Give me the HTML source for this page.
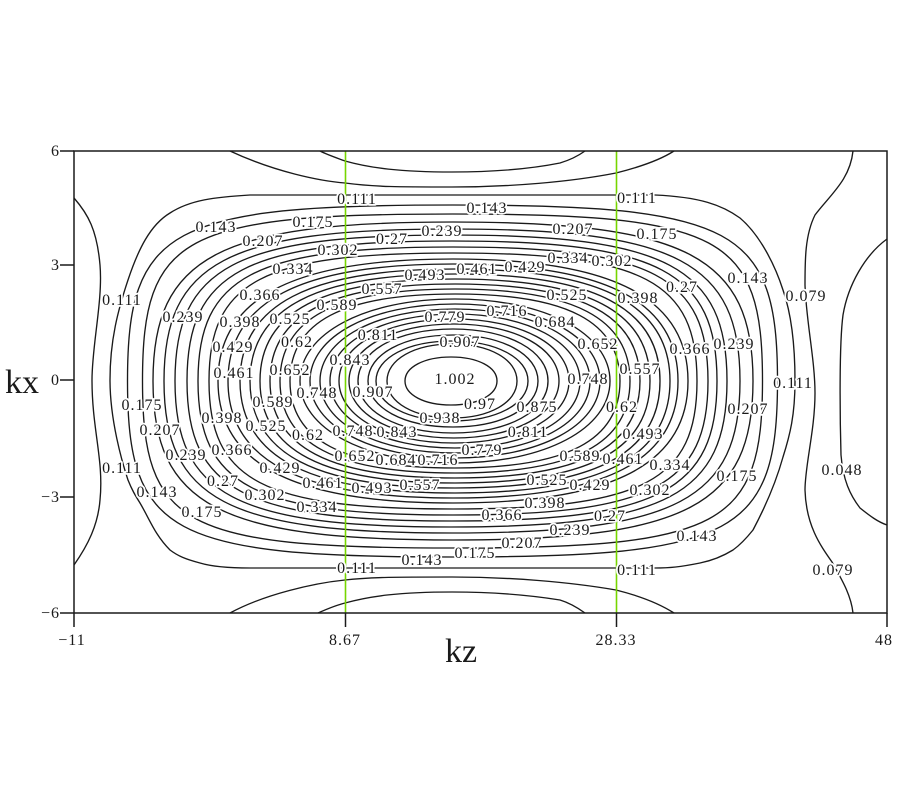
<!DOCTYPE html>
<html><head><meta charset="utf-8"><style>
html,body{margin:0;padding:0;background:#fff}
svg{display:block}
.l text{font:16px "Liberation Serif",serif;letter-spacing:1px;text-anchor:middle;fill:#1a1a1a;stroke:#fff;stroke-width:3.5px;paint-order:stroke;stroke-linejoin:round}
.a text{font:16px "Liberation Serif",serif;letter-spacing:1px;fill:#1a1a1a}
</style></head><body>
<svg width="900" height="800" viewBox="0 0 900 800" xmlns="http://www.w3.org/2000/svg">
<defs>
<path id="a" vector-effect="non-scaling-stroke" d="M-1 0C-1 -.87 -.87 -1 0 -1S1 -.87 1 0S.87 1 0 1S-1 .87 -1 0Z"/>
<path id="b" vector-effect="non-scaling-stroke" d="M-1 0C-1 -.78 -.78 -1 0 -1S1 -.78 1 0S.78 1 0 1S-1 .78 -1 0Z"/>
<path id="d" vector-effect="non-scaling-stroke" d="M-1 0C-1 -.68 -.68 -1 0 -1S1 -.68 1 0S.68 1 0 1S-1 .68 -1 0Z"/>
<path id="e" vector-effect="non-scaling-stroke" d="M-1 0C-1 -.58 -.58 -1 0 -1S1 -.58 1 0S.58 1 0 1S-1 .58 -1 0Z"/>
</defs>
<g fill="none" stroke="#1a1a1a" stroke-width="1.35">
<path d="M110 380C110 340 118 310 128 280C138 250 150 225 170 213C190 200 215 197 250 195L655 195C700 197 722 205 740 218C760 235 775 265 783 290C790 310 795 340 795 381C795 415 790 435 783 457C778 475 770 498 753 530C745 540 740 545 733 550C720 558 710 561 700 563C680 567 670 568 655 568L250 568C225 568 210 566 200 563C185 559 178 556 170 550C155 535 150 520 140 503C135 495 132 490 128 480C122 462 110 420 110 380Z"/>
<use href="#a" transform="translate(452.5 381) scale(325 176)"/>
<use href="#a" transform="translate(452.5 381) scale(310 167)"/>
<use href="#b" transform="translate(453 381) scale(300 159)"/>
<use href="#b" transform="translate(452 381) scale(288 152)"/>
<use href="#b" transform="translate(451 381) scale(276 146)"/>
<use href="#b" transform="translate(452 381) scale(265 140)"/>
<use href="#b" transform="translate(453 381) scale(255 134)"/>
<use href="#b" transform="translate(453 381) scale(244 128)"/>
<use href="#d" transform="translate(453 381) scale(235 122)"/>
<use href="#d" transform="translate(453 381) scale(225 117)"/>
<use href="#d" transform="translate(455 381) scale(215 112)"/>
<use href="#d" transform="translate(455 381) scale(205 107)"/>
<use href="#d" transform="translate(455 381) scale(195 102)"/>
<use href="#d" transform="translate(455 381) scale(185 97)"/>
<use href="#d" transform="translate(455 381) scale(175 92)"/>
<use href="#d" transform="translate(455 381) scale(165 87)"/>
<use href="#e" transform="translate(455 381) scale(155 82)"/>
<use href="#e" transform="translate(455 381) scale(145 77)"/>
<use href="#e" transform="translate(455 381) scale(135 72)"/>
<use href="#e" transform="translate(455 381) scale(125 67)"/>
<use href="#e" transform="translate(454 381) scale(115 62)"/>
<use href="#e" transform="translate(454 381) scale(105 57)"/>
<use href="#e" transform="translate(453 381) scale(95 52)"/>
<use href="#e" transform="translate(453 381) scale(85 46)"/>
<use href="#e" transform="translate(452 381) scale(76 40)"/>
<use href="#e" transform="translate(452 381) scale(65 37)"/>
<use href="#e" transform="translate(451 381) scale(46 24)"/>
<path d="M74 198C88 214 97 230 100 265C103 300 92 345 92 380C92 430 104 460 100 500C98 525 88 545 74 565"/>
<path d="M853 151C850 180 830 195 815 215C805 235 805 260 805 285C806 320 815 360 815 393C815 430 805 465 805 490C806 525 820 545 832 562C842 580 851 595 853 613"/>
<path d="M887 239C865 255 848 285 843 315C839 345 840 420 841 455C843 480 850 495 860 508C870 516 878 522 887 525"/>
<path d="M230 151C275 172 320 181 345 183C375 187 400 187 452 187C510 187 570 182 616 173C640 167 660 160 674 151"/>
<path d="M320 151C328 155 337 158 345 161C370 168 400 172 452 172C500 172 535 168 560 163C570 160 578 156 585 151"/>
<path d="M230 613C265 594 315 583 345 580C370 577 400 577 452 577C510 577 570 582 616 590C640 596 660 604 674 613"/>
<path d="M318 613C327 609 337 605 345 603C370 596 400 592 452 592C500 592 535 596 560 600C570 603 578 608 585 613"/>
</g>
<g stroke="#76d600" stroke-width="1.6"><path d="M345.5 151V613M616.5 151V613"/></g>
<g fill="none" stroke="#1a1a1a" stroke-width="1.5">
<path d="M74 151H887V613H74Z"/>
<path d="M60 151H74M60 265H74M60 380H74M60 497H74M60 613H74M74 613V627M345.5 613V627M616.5 613V627M887 613V627"/>
</g>
<g class="l">
<text x="357" y="204">0.111</text><text x="637" y="203">0.111</text><text x="487" y="213">0.143</text><text x="216" y="232">0.143</text>
<text x="313" y="227">0.175</text><text x="657" y="239">0.175</text><text x="263" y="246">0.207</text><text x="573" y="234">0.207</text>
<text x="748" y="283">0.143</text><text x="442" y="236">0.239</text><text x="392" y="244">0.27</text><text x="338" y="255">0.302</text>
<text x="612" y="266">0.302</text><text x="293" y="274">0.334</text><text x="568" y="263">0.334</text><text x="260" y="300">0.366</text>
<text x="240" y="327">0.398</text><text x="183" y="322">0.239</text><text x="122" y="305">0.111</text><text x="290" y="324">0.525</text>
<text x="337" y="310">0.589</text><text x="233" y="352">0.429</text><text x="297" y="347">0.62</text><text x="234" y="378">0.461</text>
<text x="290" y="375">0.652</text><text x="350" y="365">0.843</text><text x="378" y="340">0.811</text><text x="382" y="294">0.557</text>
<text x="425" y="280">0.493</text><text x="477" y="274">0.461</text><text x="525" y="272">0.429</text><text x="567" y="300">0.525</text>
<text x="507" y="316">0.716</text><text x="445" y="322">0.779</text><text x="555" y="327">0.684</text><text x="598" y="349">0.652</text>
<text x="460" y="347">0.907</text><text x="588" y="384">0.748</text><text x="455" y="384">1.002</text><text x="373" y="397">0.907</text>
<text x="638" y="303">0.398</text><text x="682" y="292">0.27</text><text x="690" y="354">0.366</text><text x="734" y="349">0.239</text>
<text x="640" y="374">0.557</text><text x="793" y="388">0.111</text><text x="806" y="301">0.079</text>
<text x="317" y="398">0.748</text><text x="273" y="407">0.589</text><text x="142" y="410">0.175</text><text x="222" y="423">0.398</text>
<text x="266" y="431">0.525</text><text x="308" y="440">0.62</text><text x="353" y="436">0.748</text><text x="160" y="435">0.207</text>
<text x="186" y="460">0.239</text><text x="232" y="455">0.366</text><text x="355" y="461">0.652</text><text x="280" y="473">0.429</text>
<text x="122" y="473">0.111</text><text x="323" y="488">0.461</text><text x="223" y="486">0.27</text><text x="157" y="497">0.143</text>
<text x="265" y="500">0.302</text><text x="202" y="517">0.175</text><text x="317" y="512">0.334</text>
<text x="397" y="437">0.843</text><text x="440" y="423">0.938</text><text x="480" y="409">0.97</text><text x="537" y="412">0.875</text>
<text x="528" y="437">0.811</text><text x="482" y="455">0.779</text><text x="396" y="465">0.684</text><text x="438" y="465">0.716</text>
<text x="580" y="461">0.589</text><text x="372" y="493">0.493</text><text x="420" y="490">0.557</text><text x="547" y="485">0.525</text>
<text x="590" y="490">0.429</text><text x="545" y="508">0.398</text><text x="502" y="520">0.366</text><text x="610" y="521">0.27</text>
<text x="570" y="535">0.239</text><text x="522" y="548">0.207</text><text x="475" y="558">0.175</text><text x="422" y="565">0.143</text>
<text x="357" y="573">0.111</text><text x="637" y="575">0.111</text><text x="622" y="412">0.62</text><text x="643" y="439">0.493</text>
<text x="623" y="464">0.461</text><text x="670" y="470">0.334</text><text x="650" y="495">0.302</text><text x="748" y="414">0.207</text>
<text x="737" y="481">0.175</text><text x="697" y="541">0.143</text><text x="842" y="475">0.048</text><text x="833" y="575">0.079</text>
</g>
<g class="a">
<text x="60" y="156" text-anchor="end">6</text>
<text x="60" y="270" text-anchor="end">3</text>
<text x="60" y="385" text-anchor="end">0</text>
<text x="60" y="502" text-anchor="end">−3</text>
<text x="60" y="618" text-anchor="end">−6</text>
<text x="72" y="645" text-anchor="middle">−11</text>
<text x="345" y="645" text-anchor="middle">8.67</text>
<text x="616" y="645" text-anchor="middle">28.33</text>
<text x="884" y="645" text-anchor="middle">48</text>
</g>
<text x="22" y="393" text-anchor="middle" font-family="Liberation Serif,serif" font-size="34" fill="#1a1a1a">kx</text>
<text x="461" y="662" text-anchor="middle" font-family="Liberation Serif,serif" font-size="34" fill="#1a1a1a">kz</text>
</svg>
</body></html>
